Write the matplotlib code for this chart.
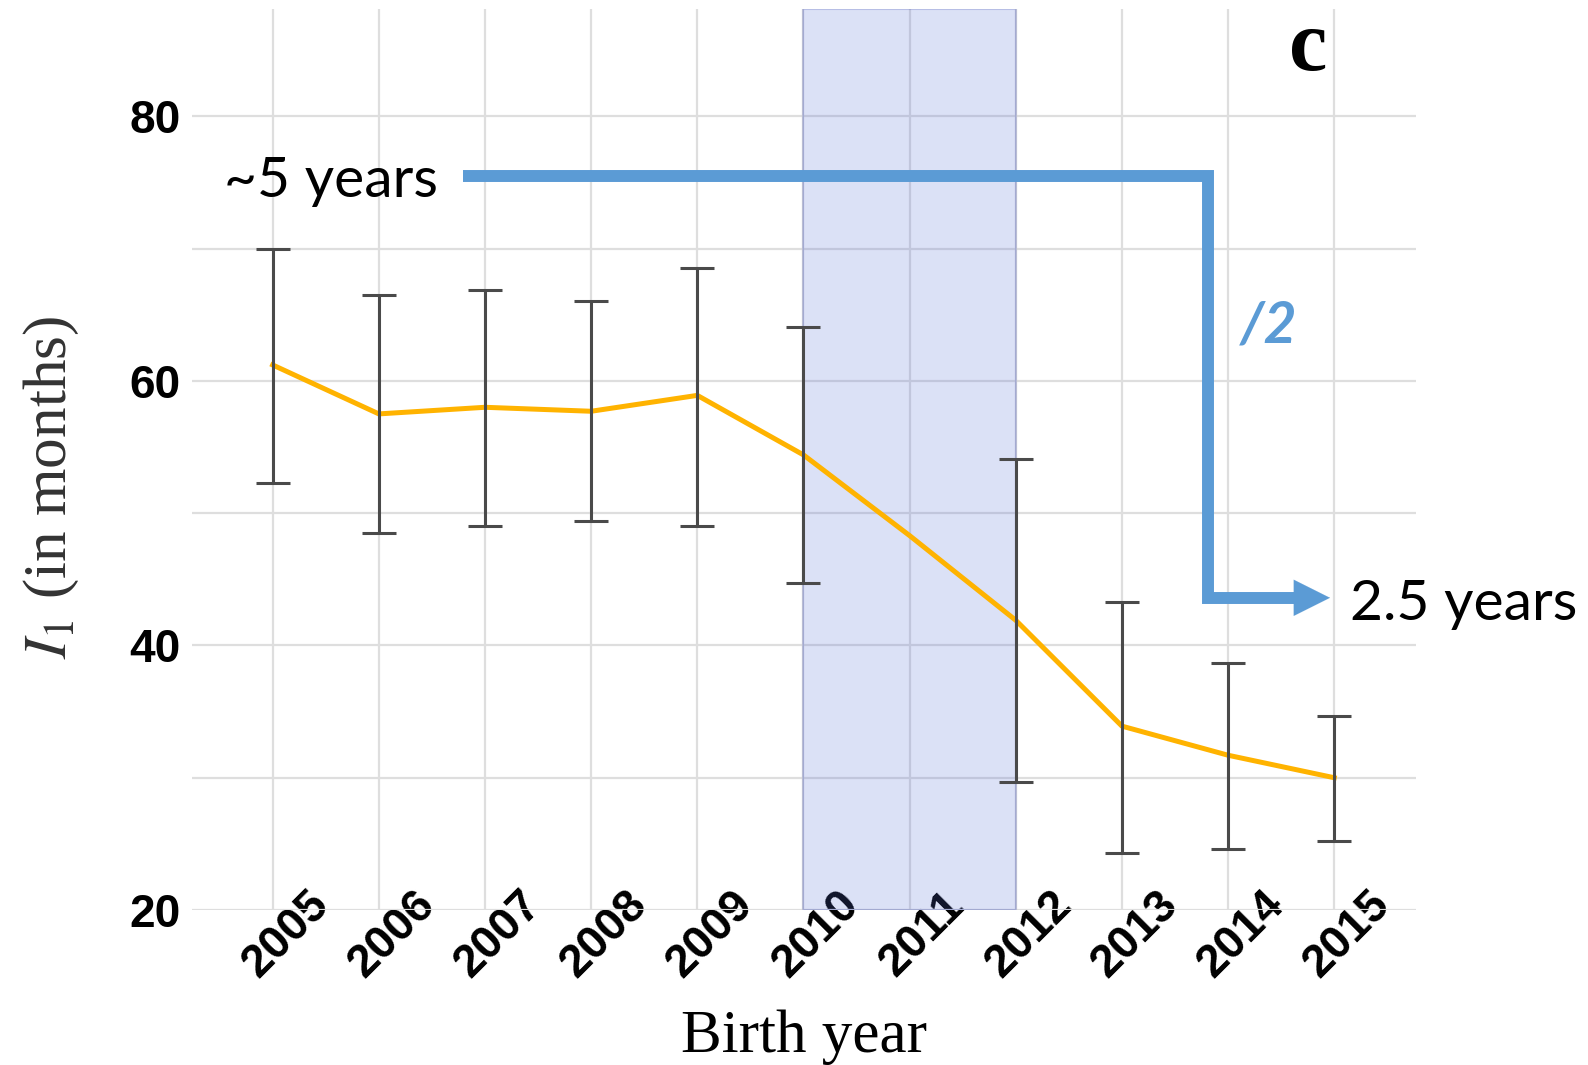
import matplotlib
matplotlib.use("Agg")
import matplotlib.pyplot as plt
import matplotlib.transforms as mtransforms
import numpy as np

# mean interval per birth year, with lower / upper bounds (nan = no bar)
years = [2005, 2006, 2007, 2008, 2009, 2010, 2011, 2012, 2013, 2014, 2015]
mean_i1 = [61.2, 57.5, 58.0, 57.7, 58.9, 54.4, 48.3, 41.9, 33.9, 31.7, 30.0]
low_i1 = [52.3, 48.5, 49.0, 49.4, 49.0, 44.7, np.nan, 29.7, 24.3, 24.6, 25.2]
high_i1 = [70.0, 66.5, 66.9, 66.0, 68.5, 64.1, np.nan, 54.1, 43.3, 38.7, 34.7]
shade_years = (2010, 2012)
y_ticks = [20, 40, 60, 80]

plt.rcParams["mathtext.fontset"] = "stix"

fig = plt.figure(figsize=(15.88, 10.65), dpi=100)
ax = fig.add_axes([0.1209, 0.1455, 0.7708, 0.846])

ax.set_xlim(2004.24, 2015.77)
ax.set_ylim(20, 88.1)
for s in ax.spines.values():
    s.set_visible(False)

ax.set_xticks(years)
ax.set_yticks(y_ticks)
ax.set_yticks(np.arange(20, 90, 10), minor=True)
ax.grid(True, which="both", color="#dedede", lw=1.6, zorder=0)
ax.tick_params(which="both", length=0)
ax.tick_params(axis="y", pad=8)
ax.set_axisbelow(True)

ax.set_yticklabels([str(v) for v in y_ticks], fontsize=33,
                   fontweight="bold", family="Liberation Sans")
ax.set_xticklabels([str(y) for y in years], fontsize=33, fontweight="bold",
                   family="Liberation Sans", rotation=45,
                   ha="center", va="center", rotation_mode="anchor")
ax.tick_params(axis="x", pad=0)
shift = mtransforms.ScaledTranslation(0.13, -0.24, fig.dpi_scale_trans)
for lab in ax.get_xticklabels():
    lab.set_transform(lab.get_transform() + shift)

ax.axvspan(*shade_years, facecolor=(0.31, 0.41, 0.84, 0.2),
           edgecolor=(0.3, 0.35, 0.7, 0.25), lw=1.5, zorder=1)

ax.plot(years, mean_i1, color="#FFB300", lw=3.6, zorder=2)

mean = np.array(mean_i1)
yerr = [mean - np.array(low_i1), np.array(high_i1) - mean]
ax.errorbar(years, mean, yerr=yerr, fmt="none", ecolor="#4a4a4a",
            elinewidth=2.2, capsize=12, capthick=2.2, zorder=3)

ax.set_xlabel("Birth year", fontsize=44, family="Liberation Serif")
ax.xaxis.set_label_coords(0.5, -0.11)
ax.set_ylabel(r"$I_1$ (in months)", fontsize=44, family="Liberation Serif",
              color="#333333")
ax.yaxis.set_label_coords(-0.091, 0.469)

# halving annotation
blue = "#5B9BD5"
ax.plot([2006.79, 2013.81, 2013.81, 2014.62], [75.5, 75.5, 43.6, 43.6],
        color=blue, lw=8.6, solid_joinstyle="miter", solid_capstyle="butt",
        zorder=5, clip_on=False)
ax.annotate("", xy=(2014.96, 43.6), xytext=(2014.55, 43.6),
            arrowprops=dict(arrowstyle="-|>,head_length=1.3,head_width=0.65",
                            color=blue, lw=0.1, shrinkA=0, shrinkB=0,
                            mutation_scale=20),
            zorder=6, annotation_clip=False)
ax.text(2006.56, 73.88, "~5 years", fontsize=41, family="Lato",
        ha="right", va="baseline", zorder=6)
ax.text(2015.15, 41.92, "2.5 years", fontsize=41, family="Lato",
        ha="left", va="baseline", zorder=6, clip_on=False)
ax.text(2014.11, 62.9, "/2", fontsize=41, family="Lato", color=blue,
        fontweight="bold", fontstyle="italic", ha="left", va="baseline",
        zorder=6)
ax.text(2014.75, 83.5, "c", fontsize=62, family="Liberation Serif",
        fontweight="bold", ha="center", va="baseline", zorder=6)

fig.savefig("out.png", dpi=100)
